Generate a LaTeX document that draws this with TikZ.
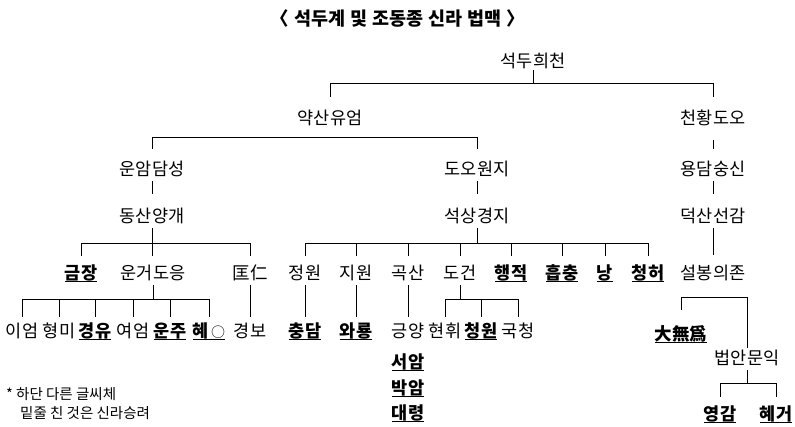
\documentclass[tikz,border=0pt]{standalone}
\usepackage{fontspec}
\setmainfont{Noto Sans CJK KR}
\newcommand\myul[1]{\setbox0\hbox{#1}\rlap{\rule[-3pt]{\wd0}{1pt}}\box0}
\newcommand\tsp{\hspace{5pt}}
\begin{document}
\begin{tikzpicture}[x=1pt,y=-1pt,
  lbl/.style={anchor=base,inner sep=0pt,font=\fontsize{17.5}{20}\selectfont},
  ttl/.style={anchor=base,inner sep=0pt,font=\fontsize{18.5}{20}\selectfont\bfseries},
  note/.style={anchor=base west,inner sep=0pt,font=\fontsize{14.5}{16}\selectfont},
  ln/.style={line width=0.8pt}]
\useasboundingbox (0,0) rectangle (795,426);
% level coordinates
\foreach \v in {70,83,97,137,140,149,181,194,228,243,255,256,285,297,299,310,317,348,370,383,397}
  {\coordinate (v\v) at (0,\v);}
% title
\node[ttl] (title) at (398,25) {〈\tsp 석두계\tsp 및\tsp 조동종\tsp 신라\tsp 법맥\tsp 〉};
% nodes
\node[lbl] (sdhc) at (533,67) {석두희천};
\node[lbl] (ysue) at (330,124) {약산유엄};
\node[lbl] (chdo) at (713,124) {천황도오};
\node[lbl] (uads) at (152,175) {운암담성};
\node[lbl] (dowj) at (477,175) {도오원지};
\node[lbl] (ydss) at (713,175) {용담숭신};
\node[lbl] (dsyg) at (152,222) {동산양개};
\node[lbl] (sskj) at (477,222) {석상경지};
\node[lbl] (dssg) at (713,222) {덕산선감};
% row 3
\node[lbl] (gj) at (81,279) {\myul{\bfseries 금장}};
\node[lbl] (ugdy) at (153,279) {운거도응};
\node[lbl] (kwin) at (250,279) {匡仁};
\node[lbl] (jw) at (305,279) {정원};
\node[lbl] (jiw) at (356,279) {지원};
\node[lbl] (goks) at (408,279) {곡산};
\node[lbl] (dog) at (460,279) {도건};
\node[lbl] (hj) at (511,279) {\myul{\bfseries 행적}};
\node[lbl] (hc) at (562,279) {\myul{\bfseries 흡충}};
\node[lbl] (nang) at (605,279) {\myul{\bfseries 낭}};
\node[lbl] (cheo) at (648,279) {\myul{\bfseries 청허}};
\node[lbl] (sbuj) at (713,279) {설봉의존};
% row 4
\node[lbl] (ieom) at (22,337) {이엄};
\node[lbl] (hm) at (59,337) {형미};
\node[lbl] (gy) at (95,337) {\myul{\bfseries 경유}};
\node[lbl] (yeom) at (133,337) {여엄};
\node[lbl] (uj) at (170,337) {\myul{\bfseries 운주}};
\node[lbl] (hye) at (209,337) {\myul{\bfseries 혜\mdseries\fontsize{14}{16}\selectfont\,○}};
\node[lbl] (gb) at (250,337) {경보};
\node[lbl] (cd) at (305,337) {\myul{\bfseries 충담}};
\node[lbl] (wr) at (356,337) {\myul{\bfseries 와룡}};
\node[lbl] (gyang) at (408,337) {긍양};
\node[lbl] (hh) at (445,337) {현휘};
\node[lbl] (cw) at (481,337) {\myul{\bfseries 청원}};
\node[lbl] (gc) at (518,337) {국청};
\node[lbl] (sa) at (408,368) {\myul{\bfseries 서암}};
\node[lbl] (ba) at (408,394) {\myul{\bfseries 박암}};
\node[lbl] (dr) at (408,419) {\myul{\bfseries 대령}};
\node[lbl] (dmw) at (681,340) {\myul{\bfseries 大無爲}};
\node[lbl] (bamy) at (747,364) {법안문익};
\node[lbl] (yg) at (720,420) {\myul{\bfseries 영감}};
\node[lbl] (hg) at (776,420) {\myul{\bfseries 혜거}};
% footnote
\node[note] (fn1) at (6,399) {* 하단 다른 글씨체};
\node[note] (fn2) at (20,418) {밑줄 친 것은 신라승려};
% connectors
\draw[ln] (sdhc |- v70) -- (sdhc |- v83);
\draw[ln] (ysue |- v97) |- (chdo |- v83) -- (chdo |- v97);
\draw[ln] (uads |- v149) |- (dowj |- v137) -- (dowj |- v149);
\draw[ln] (chdo |- v140) -- (chdo |- v149);
\draw[ln] (uads |- v181) -- (uads |- v194);
\draw[ln] (dowj |- v181) -- (dowj |- v194);
\draw[ln] (ydss |- v181) -- (ydss |- v194);
\draw[ln] (dsyg |- v228) -- (dsyg |- v256);
\draw[ln] (gj |- v256) |- (kwin |- v243) -- (kwin |- v256);
\draw[ln] (dssg |- v228) -- (dssg |- v255);
\draw[ln] (sskj |- v228) -- (sskj |- v243);
\draw[ln] (jw |- v256) |- (cheo |- v243) -- (cheo |- v256);
\foreach \n in {jiw,goks,dog,hj,hc,nang} {\draw[ln] (\n |- v243) -- (\n |- v256);}
\draw[ln] (ugdy |- v285) -- (ugdy |- v299);
\draw[ln] (ieom |- v317) |- (hye |- v299) -- (hye |- v317);
\foreach \n in {hm,gy,yeom,uj} {\draw[ln] (\n |- v299) -- (\n |- v317);}
\draw[ln] (kwin |- v285) -- (gb |- v317);
\draw[ln] (jw |- v285) -- (cd |- v317);
\draw[ln] (jiw |- v285) -- (wr |- v317);
\draw[ln] (goks |- v285) -- (gyang |- v317);
\draw[ln] (dog |- v285) -- (dog |- v299);
\draw[ln] (hh |- v317) |- (gc |- v299) -- (gc |- v317);
\draw[ln] (cw |- v299) -- (cw |- v317);
\draw[ln] (dmw |- v310) |- (bamy |- v297) -- (bamy |- v348);
\draw[ln] (bamy |- v370) -- (bamy |- v383);
\draw[ln] (yg |- v397) |- (hg |- v383) -- (hg |- v397);
\end{tikzpicture}
\end{document}
